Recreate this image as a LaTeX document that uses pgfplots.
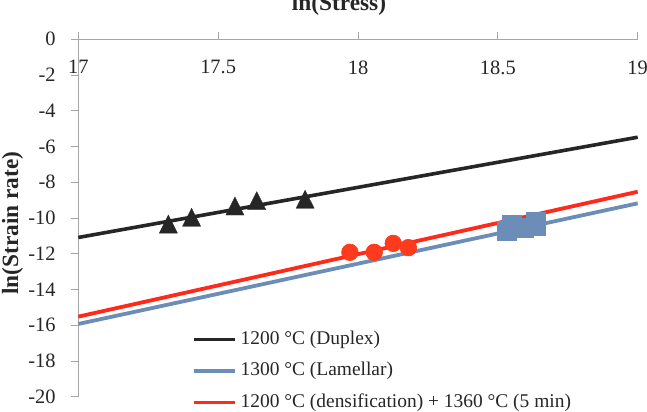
\documentclass[border=0pt]{standalone}
\usepackage{pgfplots}
\pgfplotsset{compat=1.18}
\usepackage{fontspec}
\setmainfont{Liberation Serif}

\definecolor{axisgray}{HTML}{A6A6A6}
\definecolor{darkline}{HTML}{262626}
\definecolor{blueline}{HTML}{6B8DB8}
\definecolor{redline}{HTML}{FF2A1A}
\definecolor{redmark}{HTML}{FF3A1E}

\begin{document}
\begin{tikzpicture}
\useasboundingbox (0,0) rectangle (647bp,412bp);
\begin{axis}[
  at={(78.3bp,15.3bp)}, anchor=south west,
  scale only axis, width=559.4bp, height=357.4bp,
  xmin=17, xmax=19, ymin=-20, ymax=0,
  axis x line=top, axis y line=left,
  axis line style={draw=axisgray, line width=0.9bp, -},
  xtick={17,17.5,18,18.5,19}, ytick={-20,-18,...,0},
  tick align=outside, major tick length=7bp,
  tick style={draw=axisgray, line width=0.9bp},
  /pgf/number format/assume math mode=true,
  ticklabel style={font=\fontsize{20.5}{21}\selectfont, text=darkline},
  xticklabel style={anchor=north, yshift=-24.7bp},
  yticklabel style={xshift=-12.2bp},
  title={ln(Stress)},
  title style={font=\bfseries\fontsize{23.4}{24}\selectfont, text=darkline,
    at={(axis description cs:0.466,1)}, anchor=base, yshift=22.5bp},
  ylabel={ln(Strain rate)},
  ylabel style={font=\bfseries\fontsize{23.4}{24}\selectfont, text=darkline,
    at={(axis description cs:-0.1176,0.486)}, anchor=center, rotate=0},
  legend image code/.code={\draw[#1] (0bp,0bp) -- (41.7bp,0bp);},
  legend cell align=left,
  legend style={draw=none, fill=none, at={(axis cs:17.405,-16.27)}, anchor=north west,
    inner sep=0pt, column sep=3.4bp, row sep=13bp,
    font=\fontsize{19.5}{20}\selectfont, text=darkline,
    nodes={inner sep=0pt, text height=14bp, text depth=4.5bp}},
  clip=false,
]
% fitted trend lines
\addplot[darkline, line width=3.6bp] coordinates {(17,-11.09) (19,-5.48)};
\addlegendentry{1200 °C (Duplex)}
\addplot[blueline, line width=3.8bp] coordinates {(17,-15.93) (19,-9.18)};
\addlegendentry{1300 °C (Lamellar)}
\addplot[redline, line width=3.8bp] coordinates {(17,-15.52) (19,-8.53)};
\addlegendentry{1200 °C (densification) + 1360 °C (5 min)}

% measured points
\addplot[only marks, forget plot, mark=triangle*, mark size=10.5bp,
  mark options={fill=darkline, draw=darkline, line width=0.3bp, yshift=-3bp, yscale=1.15}]
  coordinates {(17.322,-10.34) (17.405,-9.96) (17.560,-9.33) (17.638,-9.03) (17.811,-8.95)};
\addplot[only marks, forget plot, mark=square*, mark size=9.5bp,
  mark options={fill=blueline, draw=blueline, line width=0.3bp}]
  coordinates {(18.530,-10.73) (18.549,-10.35) (18.594,-10.55) (18.636,-10.20) (18.636,-10.44)};
\addplot[only marks, forget plot, mark=*, mark size=8.3bp,
  mark options={fill=redmark, draw=redline!85!orange, line width=0.6bp}]
  coordinates {(17.971,-11.92) (18.058,-11.92) (18.126,-11.42) (18.180,-11.66)};
\end{axis}
\end{tikzpicture}
\end{document}
